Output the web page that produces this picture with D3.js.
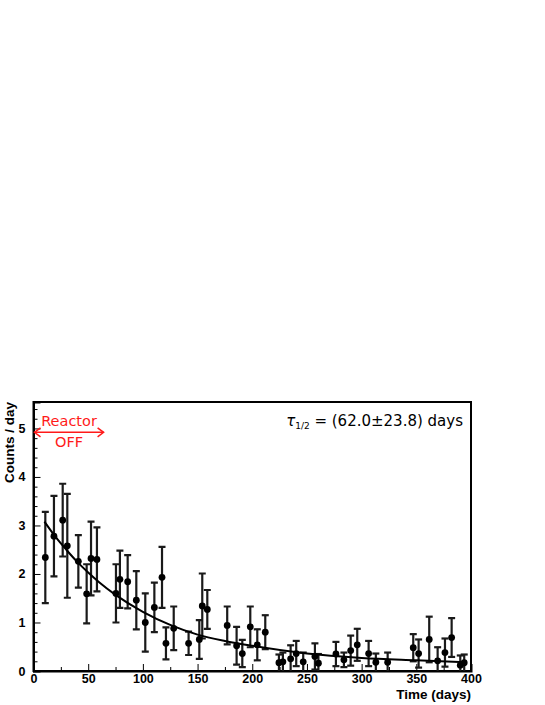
<!DOCTYPE html>
<html>
<head>
<meta charset="utf-8">
<script src="https://cdn.jsdelivr.net/npm/d3@7"></script>
<style>
  body { margin: 0; background: #fff; }
  svg { display: block; }
</style>
</head>
<body>
<svg id="chart" width="545" height="705"></svg>
<script>
// measured points (days, counts/day, error)
const days = [10.8, 18.7, 26.7, 30.9, 41.0, 48.6, 52.6, 58.0, 75.4, 79.0, 86.1, 94.0, 102.2, 110.5, 117.5,
    121.1, 128.2, 141.8, 151.6, 154.3, 158.9, 177.1, 185.7, 190.9, 198.2, 204.6, 211.9, 224.4, 228.0, 235.1,
    240.2, 246.6, 257.3, 260.5, 276.5, 283.8, 290.0, 296.0, 306.4, 313.0, 323.8, 347.2, 352.1, 361.8, 369.5,
    376.2, 382.3, 390.2, 393.8];
const counts = [2.34, 2.78, 3.11, 2.58, 2.26, 1.59, 2.32, 2.30, 1.60, 1.89, 1.84, 1.46, 1.00, 1.31, 1.93,
    0.57, 0.88, 0.57, 0.65, 1.34, 1.27, 0.94, 0.52, 0.36, 0.91, 0.54, 0.80, 0.17, 0.19, 0.25,
    0.36, 0.19, 0.30, 0.16, 0.35, 0.23, 0.42, 0.54, 0.36, 0.18, 0.18, 0.48, 0.36, 0.65, 0.21,
    0.38, 0.69, 0.12, 0.17];
const errors = [0.94, 0.83, 0.75, 1.07, 0.54, 0.61, 0.76, 0.66, 0.60, 0.59, 0.55, 0.60, 0.60, 0.51, 0.63,
    0.33, 0.45, 0.24, 0.40, 0.67, 0.40, 0.39, 0.39, 0.28, 0.42, 0.32, 0.35, 0.17, 0.19, 0.28,
    0.26, 0.19, 0.27, 0.19, 0.25, 0.15, 0.31, 0.33, 0.26, 0.18, 0.20, 0.28, 0.29, 0.47, 0.28,
    0.29, 0.40, 0.20, 0.17];

// fit curve
const fitDays = [10, 20, 30, 40, 50, 60, 75, 100, 125, 150, 175, 200, 250, 300, 350, 395];
const fitCounts = [3.08, 2.77, 2.50, 2.25, 2.03, 1.83, 1.57, 1.22, 0.95, 0.75, 0.62, 0.52, 0.36, 0.27, 0.22, 0.18];

const xTicks = [0, 50, 100, 150, 200, 250, 300, 350, 400];
const yTicks = [0, 1, 2, 3, 4, 5];
const offPeriod = [0, 65];

const svg = d3.select("#chart");
const margin = { top: 402, left: 33.5 };
const width = 437.5, height = 269;

const x = d3.scaleLinear().domain([0, 400]).range([0, width]);
const y = d3.scaleLinear().domain([0, 5.545]).range([height, 0]);

const g = svg.append("g").attr("transform", `translate(${margin.left},${margin.top})`);

g.append("clipPath").attr("id", "clip")
    .append("rect").attr("width", width).attr("height", height);

// axes: ROOT style ticks pointing inside
const xAxis = g.append("g").attr("transform", `translate(0,${height})`)
    .call(d3.axisBottom(x).tickValues(xTicks).tickSize(-7).tickPadding(3).tickFormat(d3.format("d")));
xAxis.append("g").call(d3.axisBottom(x).tickValues(d3.range(25, 400, 50)).tickSize(-4).tickFormat(""))
    .call(a => a.select(".domain").remove());

const yAxis = g.append("g")
    .call(d3.axisLeft(y).tickValues(yTicks).tickSize(-7).tickPadding(8).tickFormat(d3.format("d")));
yAxis.append("g").call(d3.axisLeft(y).tickValues(d3.range(0.2, 5.5, 0.2).filter(v => Math.abs(v - Math.round(v)) > 0.01)).tickSize(-4).tickFormat(""))
    .call(a => a.select(".domain").remove());

svg.selectAll(".tick text")
    .attr("font-family", "Liberation Sans, Arial, sans-serif")
    .attr("font-weight", "bold")
    .attr("font-size", 12.5)
    .attr("fill", "#000");
svg.selectAll(".tick line").attr("stroke", "#000").attr("stroke-width", 1);
svg.selectAll(".domain").attr("stroke", "#000").attr("stroke-width", 2);

// frame
g.append("rect")
    .attr("width", width).attr("height", height)
    .attr("fill", "none").attr("stroke", "#000").attr("stroke-width", 2);

// data
const data = days.map((d, i) => ({ x: d, y: counts[i], e: errors[i] }));
const plot = g.append("g").attr("clip-path", "url(#clip)");

const bars = plot.selectAll(".err").data(data).join("g").attr("class", "err")
    .attr("stroke", "#1a1a1a").attr("stroke-width", 2.2);
bars.append("line")
    .attr("x1", d => x(d.x)).attr("x2", d => x(d.x))
    .attr("y1", d => y(d.y + d.e)).attr("y2", d => y(Math.max(0, d.y - d.e)));
bars.append("line")
    .attr("x1", d => x(d.x) - 3.5).attr("x2", d => x(d.x) + 3.5)
    .attr("y1", d => y(d.y + d.e)).attr("y2", d => y(d.y + d.e));
bars.filter(d => d.y - d.e > 0.02).append("line")
    .attr("x1", d => x(d.x) - 3.5).attr("x2", d => x(d.x) + 3.5)
    .attr("y1", d => y(d.y - d.e)).attr("y2", d => y(d.y - d.e));

const fit = fitDays.map((d, i) => ({ x: d, y: fitCounts[i] }));
plot.append("path")
    .datum(fit)
    .attr("fill", "none")
    .attr("stroke", "#000")
    .attr("stroke-width", 2)
    .attr("d", d3.line().x(d => x(d.x)).y(d => y(d.y)).curve(d3.curveMonotoneX));

plot.selectAll(".dot").data(data).join("circle")
    .attr("cx", d => x(d.x)).attr("cy", d => y(d.y))
    .attr("r", 3.4).attr("fill", "#000");

// reactor off arrow
const red = "#ff1a1a";
const arrowY = y(4.92);
g.append("line")
    .attr("x1", x(offPeriod[0]) + 1).attr("x2", x(offPeriod[1]) - 1)
    .attr("y1", arrowY).attr("y2", arrowY)
    .attr("stroke", red).attr("stroke-width", 1.5);
[[offPeriod[0], 1], [offPeriod[1], -1]].forEach(([v, s]) => {
    const px = x(v) + s;
    g.append("path")
        .attr("d", `M${px + s * 6},${arrowY - 4.5} L${px},${arrowY} L${px + s * 6},${arrowY + 4.5}`)
        .attr("fill", "none").attr("stroke", red).attr("stroke-width", 1.5);
});
const midOff = x((offPeriod[0] + offPeriod[1]) / 2);
g.append("text").attr("x", midOff).attr("y", arrowY - 6)
    .attr("text-anchor", "middle").attr("fill", red)
    .attr("font-family", "DejaVu Sans, sans-serif").attr("font-size", 14.5)
    .text("Reactor");
g.append("text").attr("x", midOff).attr("y", arrowY + 15)
    .attr("text-anchor", "middle").attr("fill", red)
    .attr("font-family", "DejaVu Sans, sans-serif").attr("font-size", 14.5)
    .text("OFF");

// half-life label
const tau = g.append("text")
    .attr("x", width - 8).attr("y", 24)
    .attr("text-anchor", "end")
    .attr("font-family", "DejaVu Sans, sans-serif").attr("font-size", 15)
    .attr("fill", "#000");
tau.append("tspan").attr("font-style", "italic").text("τ");
tau.append("tspan").attr("font-size", 9).attr("dy", 3).text("1/2");
tau.append("tspan").attr("dy", -3).text(" = (62.0±23.8) days");

// axis titles
svg.append("text")
    .attr("transform", `translate(14,${margin.top}) rotate(-90)`)
    .attr("text-anchor", "end")
    .attr("font-family", "Liberation Sans, Arial, sans-serif")
    .attr("font-weight", "bold").attr("font-size", 13.5)
    .text("Counts / day");
svg.append("text")
    .attr("x", margin.left + width).attr("y", 699)
    .attr("text-anchor", "end")
    .attr("font-family", "Liberation Sans, Arial, sans-serif")
    .attr("font-weight", "bold").attr("font-size", 13.5)
    .text("Time (days)");
</script>
</body>
</html>
